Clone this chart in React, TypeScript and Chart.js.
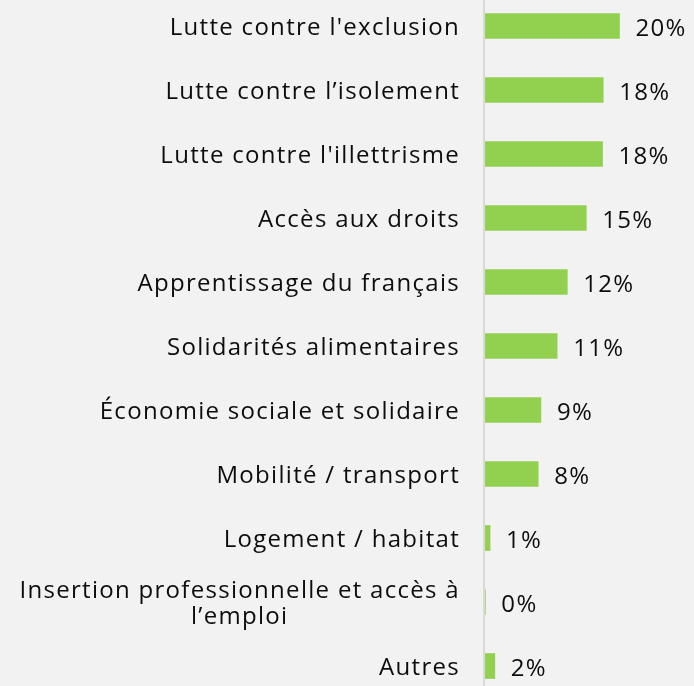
import React, { useEffect, useRef } from "react";
import { Chart, registerables } from "chart.js";

Chart.register(...registerables);

const categories: string[][] = [
  ["Lutte contre l'exclusion"],
  ["Lutte contre l\u2019isolement"],
  ["Lutte contre l'illettrisme"],
  ["Accès aux droits"],
  ["Apprentissage du français"],
  ["Solidarités alimentaires"],
  ["Économie sociale et solidaire"],
  ["Mobilité / transport"],
  ["Logement / habitat"],
  ["Insertion professionnelle et accès à", "l\u2019emploi"],
  ["Autres"],
];

// share of responses (%)
const shares: number[] = [20.0, 17.6, 17.5, 15.1, 12.3, 10.8, 8.4, 8.0, 0.9, 0.2, 1.6];

// printed data labels
const valueLabels: string[] = ["20%", "18%", "18%", "15%", "12%", "11%", "9%", "8%", "1%", "0%", "2%"];

const FONT = "24px 'Open Sans', sans-serif";
const LETTER_SPACING = "1.3px";
const TEXT_COLOR = "#0D0D0D";

const labelsPlugin = {
  id: "customLabels",
  beforeDraw(chart: any) {
    const { ctx, width, height } = chart;
    ctx.save();
    ctx.fillStyle = "#F2F2F2";
    ctx.fillRect(0, 0, width, height);
    ctx.restore();
  },
  afterDraw(chart: any) {
    const { ctx, chartArea } = chart;
    const yScale = chart.scales.y;
    ctx.save();
    // axis line
    ctx.strokeStyle = "#D9D9D9";
    ctx.lineWidth = 2;
    ctx.beginPath();
    ctx.moveTo(chartArea.left, 0);
    ctx.lineTo(chartArea.left, chart.height);
    ctx.stroke();

    ctx.font = FONT;
    (ctx as any).letterSpacing = LETTER_SPACING;
    ctx.fillStyle = TEXT_COLOR;
    ctx.textBaseline = "middle";
    const lineH = 26;
    const rightEdge = chartArea.left - 24;
    categories.forEach((lines, i) => {
      const y = yScale.getPixelForValue(i) + 2;
      const maxW = Math.max(...lines.map((l) => ctx.measureText(l).width));
      const cx = rightEdge - maxW / 2;
      ctx.textAlign = "center";
      lines.forEach((l, j) => {
        const ly = y + (j - (lines.length - 1) / 2) * lineH;
        ctx.fillText(l, cx, ly);
      });
    });

    const meta = chart.getDatasetMeta(0);
    ctx.textAlign = "left";
    meta.data.forEach((bar: any, i: number) => {
      ctx.fillText(valueLabels[i], bar.x + 16, bar.y + 3);
    });
    ctx.restore();
  },
};

export default function App() {
  const canvasRef = useRef<HTMLCanvasElement>(null);

  useEffect(() => {
    document.body.style.margin = "0";
    document.body.style.background = "#F2F2F2";
    document.body.style.overflow = "hidden";
    const canvas = canvasRef.current!;
    const chart = new Chart(canvas, {
      type: "bar",
      data: {
        labels: categories.map((c) => c.join(" ")),
        datasets: [
          {
            data: shares,
            backgroundColor: "#92D050",
            borderWidth: 0,
            barThickness: 25,
          },
        ],
      },
      options: {
        indexAxis: "y",
        animation: false,
        responsive: false,
        maintainAspectRatio: false,
        layout: { padding: 0 },
        plugins: {
          legend: { display: false },
          tooltip: { enabled: false },
        },
        scales: {
          x: {
            display: false,
            min: 0,
            max: 31,
          },
          y: {
            display: true,
            grid: { display: false },
            border: { display: false },
            ticks: { display: false },
            afterFit(scale: any) {
              scale.width = 484;
            },
          },
        },
      },
      plugins: [labelsPlugin],
    });
    return () => chart.destroy();
  }, []);

  return (
    <div style={{ position: "fixed", left: 0, top: -6, width: 694, height: 704 }}>
      <canvas ref={canvasRef} width={694} height={704} style={{ width: 694, height: 704 }} />
    </div>
  );
}
